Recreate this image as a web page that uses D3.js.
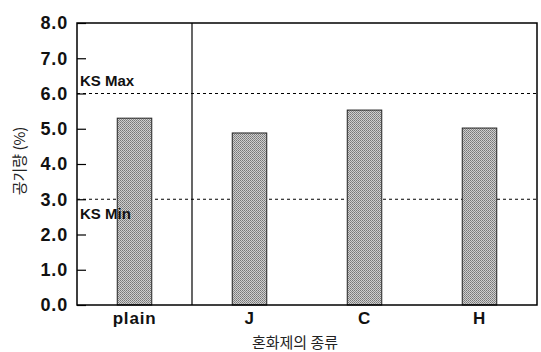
<!DOCTYPE html>
<html><head><meta charset="utf-8">
<script src="https://cdn.jsdelivr.net/npm/d3@7"></script>
<style>body{margin:0;background:#fff}svg{display:block}</style>
</head><body>
<script>
const categories = ["plain", "J", "C", "H"];
const values = [5.3, 4.88, 5.53, 5.02];
const yTicks = [0, 1, 2, 3, 4, 5, 6, 7, 8];
const limits = [{label: "KS Max", value: 6.0}, {label: "KS Min", value: 3.0}];
const xTitle = "혼화제의 종류";
const yTitle = "공기량 (%)";

const W = 541, H = 352;
const m = {left: 77, right: 4, top: 23, bottom: 47};
const svg = d3.select("body").append("svg").attr("width", W).attr("height", H);

const defs = svg.append("defs");
const pat = defs.append("pattern").attr("id", "stip").attr("width", 2).attr("height", 2)
  .attr("patternUnits", "userSpaceOnUse");
pat.append("rect").attr("width", 2).attr("height", 2).attr("fill", "#cfcfcf");
pat.append("rect").attr("width", 1).attr("height", 1).attr("fill", "#777");
pat.append("rect").attr("x", 1).attr("y", 1).attr("width", 1).attr("height", 1).attr("fill", "#8a8a8a");

const x = d3.scaleBand().domain(categories).range([m.left, W - m.right])
  .paddingInner(0.7).paddingOuter(0.35);
const y = d3.scaleLinear().domain([0, 8]).range([H - m.bottom, m.top]);

// dotted limit lines
svg.selectAll(".lim").data(limits).enter().append("line")
  .attr("x1", m.left).attr("x2", W - m.right)
  .attr("y1", d => y(d.value)).attr("y2", d => y(d.value))
  .attr("stroke", "#000").attr("stroke-width", 1).attr("stroke-dasharray", "3,3");

// bars
svg.selectAll(".bar").data(categories).enter().append("rect")
  .attr("x", d => x(d)).attr("width", x.bandwidth())
  .attr("y", (d, i) => y(values[i])).attr("height", (d, i) => y(0) - y(values[i]))
  .attr("fill", "url(#stip)").attr("stroke", "#222").attr("stroke-width", 1);

// limit labels
svg.selectAll(".limt").data(limits).enter().append("text")
  .attr("x", m.left + 3)
  .attr("y", (d, i) => i === 0 ? y(d.value) - 8 : y(d.value) + 20)
  .attr("font-family", "Liberation Sans, Arial, sans-serif").attr("font-weight", "bold")
  .attr("font-size", 15).attr("fill", "#111").text(d => d.label);

// frame
svg.append("rect").attr("x", m.left).attr("y", m.top)
  .attr("width", W - m.right - m.left).attr("height", H - m.bottom - m.top)
  .attr("fill", "none").attr("stroke", "#000").attr("stroke-width", 1.5);

// divider between plain and others
const divX = x(categories[0]) + x.bandwidth() + x.step() * 0.35;
svg.append("line").attr("x1", divX).attr("x2", divX).attr("y1", m.top).attr("y2", H - m.bottom)
  .attr("stroke", "#000").attr("stroke-width", 1.2);

// y axis
const yAxis = d3.axisLeft(y).tickValues(yTicks).tickFormat(d3.format(".1f")).tickSizeInner(-9).tickSizeOuter(0).tickPadding(9);
const gy = svg.append("g").attr("transform", `translate(${m.left},0)`).call(yAxis);
gy.select(".domain").remove();
gy.selectAll("line").attr("stroke", "#000").attr("stroke-width", 1.2);
gy.selectAll("text").attr("font-family", "Liberation Sans, Arial, sans-serif")
  .attr("font-weight", "bold").attr("font-size", 18).attr("fill", "#111")
  .attr("x", -9).attr("letter-spacing", 0.8);

// x axis labels
const xAxis = d3.axisBottom(x).tickSize(0).tickPadding(7);
const gx = svg.append("g").attr("transform", `translate(0,${H - m.bottom})`).call(xAxis);
gx.select(".domain").remove();
gx.selectAll("text").attr("font-family", "Liberation Sans, Arial, sans-serif")
  .attr("font-weight", "bold").attr("font-size", 17).attr("fill", "#111").attr("letter-spacing", 0.8);

// titles
svg.append("text").attr("x", 295).attr("y", 348).attr("text-anchor", "middle")
  .attr("font-family", "Noto Sans CJK KR, sans-serif").attr("font-size", 15).attr("fill", "#222")
  .text(xTitle);
svg.append("text").attr("transform", "translate(25,161) rotate(-90)").attr("text-anchor", "middle")
  .attr("font-family", "Noto Sans CJK KR, sans-serif").attr("font-size", 15).attr("fill", "#222")
  .text(yTitle);
</script>
</body></html>
